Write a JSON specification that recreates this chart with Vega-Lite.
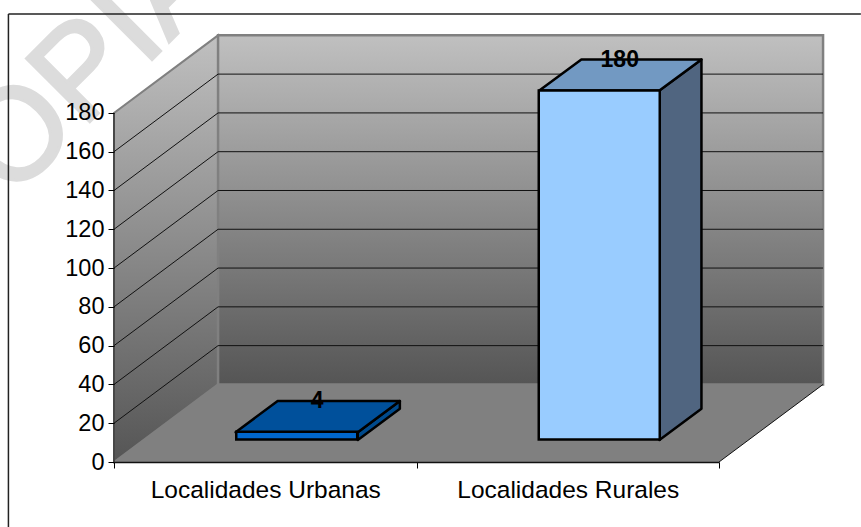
{
"$schema":"https://vega.github.io/schema/vega-lite/v6.json",
"autosize":"none","width":605,"height":448,
"padding":{"left":114,"top":14,"right":142,"bottom":65},
"background":"white",
"view":{"stroke":null},
"config":{"font":"Liberation Sans"},
"datasets":{
"bars":[{"category":"Localidades Urbanas","value":4},{"category":"Localidades Rurales","value":180}],
"mark":[{"label":"COPIA","x":-0.561,"y":100.5}],
"frame":[{"id":"left","x":-0.349,"y":-33.5},{"id":"left","x":-0.349,"y":231},{"id":"top","x":-0.349,"y":231},{"id":"top","x":2.469,"y":231}],
"side":[{"x":0,"y":0,"y2":180},{"x":0.344,"y":40,"y2":220}],
"back":[{"x":0.344,"y":40,"y2":220},{"x":2.344,"y":40,"y2":220}],
"floor":[{"x":0,"y":0,"y2":0},{"x":0.344,"y":0,"y2":40},{"x":2,"y":0,"y2":40},{"x":2.344,"y":40,"y2":40}],
"grid":[
{"id":"g20","x":0,"y":20},{"id":"g20","x":0.344,"y":60},{"id":"g20","x":2.344,"y":60},
{"id":"g40","x":0,"y":40},{"id":"g40","x":0.344,"y":80},{"id":"g40","x":2.344,"y":80},
{"id":"g60","x":0,"y":60},{"id":"g60","x":0.344,"y":100},{"id":"g60","x":2.344,"y":100},
{"id":"g80","x":0,"y":80},{"id":"g80","x":0.344,"y":120},{"id":"g80","x":2.344,"y":120},
{"id":"g100","x":0,"y":100},{"id":"g100","x":0.344,"y":140},{"id":"g100","x":2.344,"y":140},
{"id":"g120","x":0,"y":120},{"id":"g120","x":0.344,"y":160},{"id":"g120","x":2.344,"y":160},
{"id":"g140","x":0,"y":140},{"id":"g140","x":0.344,"y":180},{"id":"g140","x":2.344,"y":180},
{"id":"g160","x":0,"y":160},{"id":"g160","x":0.344,"y":200},{"id":"g160","x":2.344,"y":200},
{"id":"axis","x":0,"y":0},{"id":"axis","x":0,"y":180},
{"id":"edge","x":2,"y":0},{"id":"edge","x":2.344,"y":40}],
"faces":[
{"face":"urb-side","x":0.806,"y":11.4,"y2":15.4},{"face":"urb-side","x":0.945,"y":27.4,"y2":31.4},
{"face":"urb-top","x":0.402,"y":15.4,"y2":15.4},{"face":"urb-top","x":0.541,"y":15.4,"y2":31.4},{"face":"urb-top","x":0.806,"y":15.4,"y2":31.4},{"face":"urb-top","x":0.945,"y":31.4,"y2":31.4},
{"face":"rur-side","x":1.803,"y":11.4,"y2":191.6},{"face":"rur-side","x":1.942,"y":27.4,"y2":207.6},
{"face":"rur-top","x":1.406,"y":191.6,"y2":191.6},{"face":"rur-top","x":1.545,"y":191.6,"y2":207.6},{"face":"rur-top","x":1.803,"y":191.6,"y2":207.6},{"face":"rur-top","x":1.942,"y":207.6,"y2":207.6}]
},
"layer":[
{"data":{"name":"mark"},
 "mark":{"type":"text","angle":315,"align":"left","baseline":"alphabetic","fontSize":130,"color":"#dcdcdc","stroke":"#dcdcdc","strokeWidth":3},
 "encoding":{"x":{"field":"x","type":"quantitative","axis":null,"scale":{"domain":[0,2],"nice":false,"zero":false}},
 "y":{"field":"y","type":"quantitative","scale":{"domain":[0,231],"nice":false},
  "axis":{"values":[0,20,40,60,80,100,120,140,160,180],"domain":false,"grid":false,"title":null,"labelFontSize":23.5,"labelColor":"black","tickColor":"black","tickSize":6,"labelPadding":4,"labelFont":"Liberation Sans","zindex":1}},
 "text":{"field":"label"}}},
{"data":{"name":"frame"},
 "mark":{"type":"line","color":"#222222","strokeWidth":1.5},
 "encoding":{"x":{"field":"x","type":"quantitative","axis":null,"scale":{"domain":[0,2],"nice":false,"zero":false}},
 "y":{"field":"y","type":"quantitative","scale":{"domain":[0,231],"nice":false}},
 "detail":{"field":"id"}}},
{"data":{"name":"side"},
 "mark":{"type":"area","stroke":"#808080","strokeWidth":2,"color":{"gradient":"linear","x1":0,"y1":0,"x2":0,"y2":1,"stops":[{"offset":0,"color":"#c0c0c0"},{"offset":1,"color":"#555555"}]}},
 "encoding":{"x":{"field":"x","type":"quantitative","axis":null,"scale":{"domain":[0,2],"nice":false,"zero":false}},
 "y":{"field":"y","type":"quantitative","scale":{"domain":[0,231],"nice":false}},"y2":{"field":"y2"}}},
{"data":{"name":"back"},
 "mark":{"type":"area","stroke":"#808080","strokeWidth":2.5,"color":{"gradient":"linear","x1":0,"y1":0,"x2":0,"y2":1,"stops":[{"offset":0,"color":"#c0c0c0"},{"offset":1,"color":"#555555"}]}},
 "encoding":{"x":{"field":"x","type":"quantitative","axis":null,"scale":{"domain":[0,2],"nice":false,"zero":false}},
 "y":{"field":"y","type":"quantitative","scale":{"domain":[0,231],"nice":false}},"y2":{"field":"y2"}}},
{"data":{"name":"floor"},
 "mark":{"type":"area","color":"#808080"},
 "encoding":{"x":{"field":"x","type":"quantitative","axis":null,"scale":{"domain":[0,2],"nice":false,"zero":false}},
 "y":{"field":"y","type":"quantitative","scale":{"domain":[0,231],"nice":false}},"y2":{"field":"y2"}}},
{"data":{"name":"grid"},
 "mark":{"type":"line","color":"#111111","strokeWidth":1},
 "encoding":{"x":{"field":"x","type":"quantitative","axis":null,"scale":{"domain":[0,2],"nice":false,"zero":false}},
 "y":{"field":"y","type":"quantitative","scale":{"domain":[0,231],"nice":false}},
 "detail":{"field":"id"}}},
{"data":{"name":"faces"},
 "mark":{"type":"area","stroke":"black","strokeWidth":2.5,"strokeJoin":"round"},
 "encoding":{"x":{"field":"x","type":"quantitative","axis":null,"scale":{"domain":[0,2],"nice":false,"zero":false}},
 "y":{"field":"y","type":"quantitative","scale":{"domain":[0,231],"nice":false}},"y2":{"field":"y2"},
 "color":{"field":"face","type":"nominal","legend":null,"scale":{"domain":["urb-side","urb-top","rur-side","rur-top","Localidades Urbanas","Localidades Rurales"],"range":["#004a8c","#00509b","#506580","#7299c2","#0066cc","#99ccff"]}}}},
{"data":{"name":"bars"},
 "mark":{"type":"bar","width":121,"xOffset":31.5,"yOffset":-22.5,"y2Offset":-22.5,"stroke":"black","strokeWidth":2.5},
 "encoding":{"x":{"field":"category","type":"nominal","sort":null,"scale":{"type":"band","paddingInner":0,"paddingOuter":0},
   "axis":{"title":null,"labelAngle":0,"labelFontSize":24.5,"labelLimit":400,"labelColor":"black","labelFont":"Liberation Sans","tickBand":"extent","tickColor":"black","tickSize":6,"domainColor":"#111111","domainWidth":1.5,"labelPadding":10,"zindex":1}},
 "y":{"field":"value","type":"quantitative","scale":{"domain":[0,231],"nice":false}},
 "color":{"field":"category","type":"nominal","legend":null,"scale":{"domain":["urb-side","urb-top","rur-side","rur-top","Localidades Urbanas","Localidades Rurales"],"range":["#004a8c","#00509b","#506580","#7299c2","#0066cc","#99ccff"]}}}},
{"data":{"name":"bars"},
 "mark":{"type":"text","fontSize":23,"fontWeight":"bold","color":"black","dx":52,"dy":-53},
 "encoding":{"x":{"field":"category","type":"nominal","sort":null,"axis":null,"scale":{"type":"band","paddingInner":0,"paddingOuter":0}},
 "y":{"field":"value","type":"quantitative","scale":{"domain":[0,231],"nice":false}},
 "text":{"field":"value","type":"quantitative"}}}
],
"resolve":{"scale":{"x":"independent"}}
}
